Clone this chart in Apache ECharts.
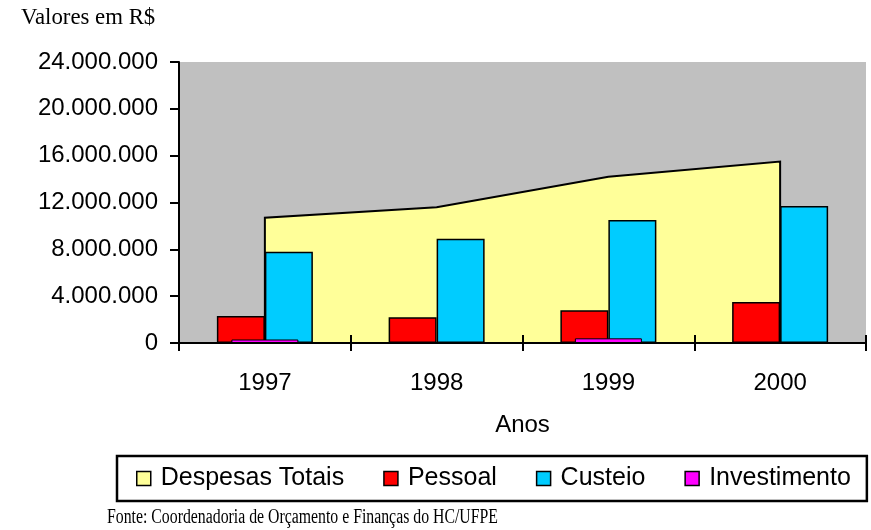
<!DOCTYPE html>
<html>
<head>
<meta charset="utf-8">
<script src="https://cdn.jsdelivr.net/npm/echarts@6/dist/echarts.min.js"></script>
<style>
  html, body { margin: 0; padding: 0; background: #fff; }
  #chart { width: 871px; height: 530px; }
</style>
</head>
<body>
<div id="chart"></div>
<script>
const anos = ["1997", "1998", "1999", "2000"];
const despesasTotais = [10700000, 11600000, 14200000, 15500000];
const pessoal = [2300000, 2200000, 2800000, 3500000];
const custeio = [7800000, 8900000, 10500000, 11700000];
const investimento = [300000, 0, 400000, 0];
const yTicks = [0, 4000000, 8000000, 12000000, 16000000, 20000000, 24000000];

const SANS = "'Liberation Sans', Arial, sans-serif";
const SERIF = "'Liberation Serif', 'Times New Roman', serif";

function pontos(v) {
  return String(v).replace(/\B(?=(\d{3})+(?!\d))/g, ".");
}

let myChart = echarts.init(document.getElementById("chart"));
myChart.setOption({
  animation: false,
  grid: {
    left: 179,
    right: 5,
    top: 62,
    bottom: 187,
    show: true,
    backgroundColor: "#c0c0c0",
    borderWidth: 0,
  },
  legend: {
    left: 117,
    top: 456,
    padding: [10, 16, 10, 19],
    borderColor: "#000",
    borderWidth: 2.5,
    itemGap: 39,
    itemWidth: 14,
    itemHeight: 14,
    icon: "rect",
    textStyle: {
      fontFamily: SANS,
      fontSize: 25,
      color: "#000",
      padding: [0, 0, 0, 5],
    },
    data: [
      { name: "Despesas Totais", itemStyle: { color: "#ffff99", borderColor: "#000", borderWidth: 1.5 } },
      { name: "Pessoal", itemStyle: { color: "#ff0000", borderColor: "#000", borderWidth: 1.5 } },
      { name: "Custeio", itemStyle: { color: "#00ccff", borderColor: "#000", borderWidth: 1.5 } },
      { name: "Investimento", itemStyle: { color: "#ff00ff", borderColor: "#000", borderWidth: 1.5 } },
    ],
  },
  graphic: [
    {
      type: "text",
      x: 21,
      y: 6,
      scaleX: 0.95,
      style: { text: "Valores em R$", font: "24px " + SERIF, fill: "#000" },
    },
    {
      type: "text",
      x: 107,
      y: 508,
      scaleX: 0.79,
      style: { text: "Fonte: Coordenadoria de Orçamento e Finanças do HC/UFPE", font: "20px " + SERIF, fill: "#000" },
    },
  ],
  xAxis: [
    {
      type: "category",
      data: anos,
      boundaryGap: true,
      name: "Anos",
      nameLocation: "middle",
      nameGap: 70,
      nameTextStyle: { fontFamily: SANS, fontSize: 24, color: "#000" },
      axisLine: { lineStyle: { color: "#000", width: 2 } },
      axisTick: { show: true, length: 8, lineStyle: { color: "#000", width: 2 } },
      axisLabel: { margin: 28, fontFamily: SANS, fontSize: 24, color: "#000" },
      splitLine: { show: false },
    },
    {
      // eixo auxiliar (no topo, deslocado até a base): barra de investimento
      // e os tracinhos que sobem a partir do eixo
      type: "category",
      data: anos,
      position: "top",
      offset: -281,
      zlevel: 1,
      axisLine: { show: true, onZero: false, lineStyle: { color: "#000", width: 2 } },
      axisTick: { show: true, inside: false, length: 8, lineStyle: { color: "#000", width: 2 } },
      axisLabel: { show: false },
      splitLine: { show: false },
    },
  ],
  yAxis: {
    type: "value",
    min: yTicks[0],
    max: yTicks[yTicks.length - 1],
    interval: 4000000,
    axisLine: { show: true, lineStyle: { color: "#000", width: 2 } },
    axisTick: { show: true, length: 9, lineStyle: { color: "#000", width: 2 } },
    axisLabel: {
      margin: 21,
      fontFamily: SANS,
      fontSize: 24,
      color: "#000",
      formatter: pontos,
    },
    splitLine: { show: false },
  },
  series: [
    {
      name: "Despesas Totais",
      type: "custom",
      xAxisIndex: 0,
      z: 1,
      itemStyle: { color: "#ffff99" },
      encode: { x: 0, y: 1 },
      data: despesasTotais.map((v, i) => [i, v]),
      renderItem(params, api) {
        if (params.dataIndex !== 0) return;
        const pts = despesasTotais.map((v, i) => api.coord([i, v]));
        const ini = api.coord([0, 0]);
        const fim = api.coord([despesasTotais.length - 1, 0]);
        return {
          type: "polygon",
          shape: { points: [ini].concat(pts, [fim]) },
          style: { fill: "#ffff99", stroke: "#000", lineWidth: 2 },
        };
      },
    },
    {
      name: "Pessoal",
      type: "bar",
      xAxisIndex: 0,
      z: 2,
      barWidth: 48,
      barGap: "0%",
      itemStyle: { color: "#ff0000", borderColor: "#000", borderWidth: 1.5 },
      data: pessoal,
    },
    {
      name: "Custeio",
      type: "bar",
      xAxisIndex: 0,
      z: 2,
      barWidth: 48,
      barGap: "0%",
      itemStyle: { color: "#00ccff", borderColor: "#000", borderWidth: 1.5 },
      data: custeio,
    },
    {
      name: "Investimento",
      type: "bar",
      xAxisIndex: 1,
      z: 3,
      barWidth: 67,
      itemStyle: { color: "#ff00ff", borderColor: "#000", borderWidth: 1 },
      data: investimento,
    },
  ],
});
</script>
</body>
</html>
